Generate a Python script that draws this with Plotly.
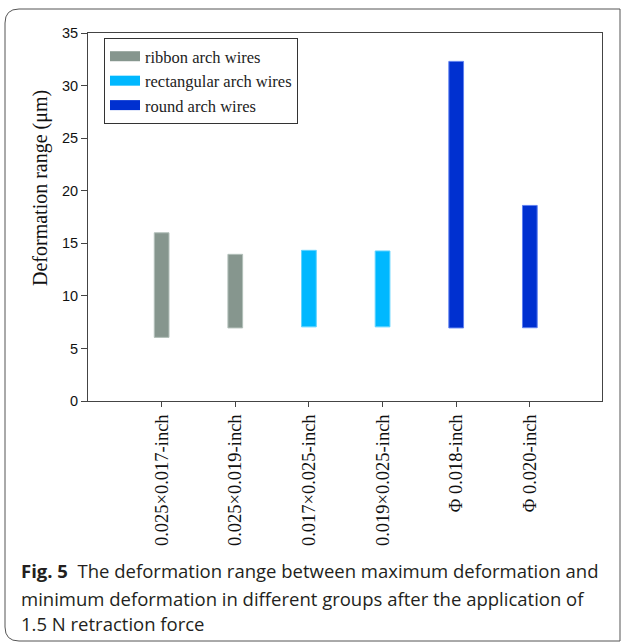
import plotly.graph_objects as go

categories = ["0.025×0.017-inch", "0.025×0.019-inch", "0.017×0.025-inch",
              "0.019×0.025-inch", "Φ 0.018-inch", "Φ 0.020-inch"]
groups = ["ribbon arch wires", "ribbon arch wires", "rectangular arch wires",
          "rectangular arch wires", "round arch wires", "round arch wires"]
min_def = [6.05, 6.95, 7.05, 7.05, 6.95, 6.97]
max_def = [16.0, 13.95, 14.33, 14.27, 32.3, 18.6]
group_names = ["ribbon arch wires", "rectangular arch wires", "round arch wires"]
group_colors = ["#86968e", "#00b8ff", "#0030d0"]
group_edges = ["#b3c0ba", "#5fd3ff", "#5f80f0"]

W, H = 625, 644
L, R, T, B = 88, 602, 33, 401
pw, ph = R - L, B - T

def px(x):
    return (x - L) / pw

def py(y):
    return (B - y) / ph

SERIF = "Liberation Serif, Times New Roman, serif"

fig = go.Figure()
for gname, col, edge in zip(group_names, group_colors, group_edges):
    xs = [c for c, g in zip(categories, groups) if g == gname]
    lo = [m for m, g in zip(min_def, groups) if g == gname]
    hi = [m for m, g in zip(max_def, groups) if g == gname]
    fig.add_trace(go.Bar(
        x=xs, y=[h - l for h, l in zip(hi, lo)], base=lo,
        width=0.2, marker=dict(color=col, line=dict(color=edge, width=1)),
        showlegend=False, name=gname))
    # legend swatch
    fig.add_trace(go.Scatter(x=[None], y=[None], mode="lines", name=gname,
                             line=dict(color=col, width=10)))

# outer rounded frame
r = 14
x0, x1, y0, y1 = 5, 620, 9, 641
path = (f"M {px(x0)},{py(y0 + r)} "
        f"Q {px(x0)},{py(y0)} {px(x0 + r)},{py(y0)} "
        f"L {px(x1)},{py(y0)} "
        f"L {px(x1)},{py(y1)} "
        f"L {px(x0 + r)},{py(y1)} "
        f"Q {px(x0)},{py(y1)} {px(x0)},{py(y1 - r)} Z")

fig.update_layout(
    width=W, height=H,
    margin=dict(l=L, r=W - R, t=T, b=H - B, autoexpand=False),
    paper_bgcolor="white", plot_bgcolor="white",
    barmode="overlay",
    showlegend=True,
    legend=dict(x=px(104), y=py(38), xanchor="left", yanchor="top",
                bordercolor="#333333", borderwidth=1, bgcolor="white",
                font=dict(family=SERIF, size=16.5, color="#222"),
                itemwidth=30, tracegroupgap=0),
    xaxis=dict(type="category", categoryorder="array", categoryarray=categories,
               range=[-1.0, 5.98], showline=True, linecolor="#444", linewidth=1,
               mirror=True, ticks="outside", ticklen=5, tickcolor="#444",
               tickangle=-90, showgrid=False, zeroline=False,
               tickfont=dict(family=SERIF, size=18.5, color="#111")),
    yaxis=dict(range=[0, 35], tickvals=[0, 5, 10, 15, 20, 25, 30, 35],
               showline=True, linecolor="#444", linewidth=1, mirror=True,
               ticks="outside", ticklen=6, tickcolor="#444", showgrid=False, zeroline=False,
               tickfont=dict(family="Liberation Sans, Arial, sans-serif", size=14.5, color="#111")),
    shapes=[dict(type="path", xref="paper", yref="paper", path=path,
                 line=dict(color="#555", width=1), fillcolor="rgba(0,0,0,0)",
                 layer="below")],
)

# y-axis title
fig.add_annotation(text="Deformation range (μm)", xref="paper", yref="paper",
                   x=px(40), y=py(188), xanchor="center", yanchor="middle",
                   textangle=-90, showarrow=False,
                   font=dict(family=SERIF, size=20, color="#111"))

caption_lines = ["<b>Fig. 5</b>  The deformation range between maximum deformation and",
                 "minimum deformation in different groups after the application of",
                 "1.5 N retraction force"]
caption_y = [570, 598, 623]
for txt, yy in zip(caption_lines, caption_y):
    fig.add_annotation(text=txt, xref="paper", yref="paper", x=px(19), y=py(yy),
                       xanchor="left", yanchor="middle", showarrow=False, align="left",
                       font=dict(family="Open Sans, Noto Sans, sans-serif", size=18.5, color="#231f20"))

fig.write_html("out.html", config={"displayModeBar": False},
               post_script="document.body.style.margin='0';")
